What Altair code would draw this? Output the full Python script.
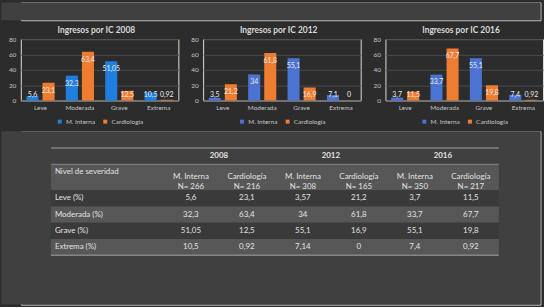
import altair as alt
import pandas as pd

# ---------------- data ----------------
categories = ["Leve", "Moderada", "Grave", "Extrema"]
series = ["M. Interna", "Cardiología"]
years = ["2008", "2012", "2016"]

chart_mi_2008 = [5.6, 32.3, 51.05, 10.5]
chart_card_2008 = [23.1, 63.4, 12.5, 0.92]
chart_mi_2012 = [3.5, 34, 55.1, 7.1]
chart_card_2012 = [21.2, 61.8, 16.9, 0]
chart_mi_2016 = [3.7, 33.7, 55.1, 7.4]
chart_card_2016 = [11.5, 67.7, 19.8, 0.92]

y_ticks = [0, 20, 40, 60, 80]

table_first_header = "Nivel de severidad"
table_row_labels = ["Leve (%)", "Moderada (%)", "Grave (%)", "Extrema (%)"]
table_n_mi = [266, 308, 350]
table_n_card = [216, 165, 217]
table_mi_2008 = [5.6, 32.3, 51.05, 10.5]
table_card_2008 = [23.1, 63.4, 12.5, 0.92]
table_mi_2012 = [3.57, 34, 55.1, 7.14]
table_card_2012 = [21.2, 61.8, 16.9, 0]
table_mi_2016 = [3.7, 33.7, 55.1, 7.4]
table_card_2016 = [11.5, 67.7, 19.8, 0.92]

# ---------------- style ----------------
FONT = "Lato"
BG_DARK = "#2c2c2c"
BG_GRAY = "#404040"
ROW_LIGHT = "#575757"
ROW_DARK = "#3a3a3a"
RULE = "#858585"
GRID = "#4a4a4a"
TXT = "#c4c4c4"
LBL = "#ececec"
TTXT = "#e2e2e2"
ORANGE = "#ee7d31"
BLUES = ["#1f7fe0", "#4a73d2", "#4a73d2"]

TOTAL_W = 544
LEFT = 19.6          # left margin before the first plot area
INNER_W = TOTAL_W - LEFT


def fmt(v):
    return str(v).replace(".", ",")


def panel(year, mi, card, blue):
    df = pd.DataFrame({
        "cat": categories * 2,
        "serie": [series[0]] * 4 + [series[1]] * 4,
        "value": list(mi) + list(card),
    })
    yscale = alt.Scale(domain=[0, 80], nice=False)
    yaxis = alt.Axis(values=y_ticks, title=None, labelPadding=5, ticks=False, domain=False,
                     grid=True, gridColor=GRID, labelColor=TXT, labelFontSize=6.5,
                     labelFont=FONT)
    x = alt.X("cat:N", sort=categories,
              scale=alt.Scale(paddingInner=0, paddingOuter=0),
              axis=alt.Axis(title=None, labelAngle=0, ticks=False, domainColor="#7a7a7a",
                            labelColor=TXT, labelFontSize=6.5, labelPadding=4,
                            labelFont=FONT))
    xo = alt.XOffset("serie:N", sort=series,
                     scale=alt.Scale(paddingInner=0.25, paddingOuter=0.35))
    bars = alt.Chart(df).mark_bar().encode(
        x=x, xOffset=xo,
        y=alt.Y("value:Q", scale=yscale, axis=yaxis),
        color=alt.Color("serie:N", sort=series,
                        scale=alt.Scale(domain=series, range=[blue, ORANGE]),
                        legend=alt.Legend(title=None, orient="none", direction="horizontal",
                                          legendX=36, legendY=80, symbolType="square",
                                          symbolSize=16, labelFontSize=6.5, labelColor=TXT,
                                          labelFont=FONT, columnPadding=6, labelOffset=3,
                                          symbolStrokeWidth=0)),
    )
    labels = alt.Chart(df).transform_calculate(
        ly="max(datum.value - 10.3, 7.7)",
        lbl="replace(toString(datum.value), '.', ',')",
    ).mark_text(font=FONT, fontSize=7, color=LBL, baseline="middle").encode(
        x=x, xOffset=xo,
        y=alt.Y("ly:Q", scale=yscale, axis=yaxis),
        text="lbl:N",
    )
    return alt.layer(bars, labels).properties(
        width=159, height=62,
        title=alt.TitleParams(f"Ingresos por IC {year}", font=FONT, fontSize=8.5,
                              fontWeight="bold", color="#d9d9d9", anchor="middle",
                              frame="bounds", dx=3, offset=2),
    )


p1 = panel(years[0], chart_mi_2008, chart_card_2008, BLUES[0])
p2 = panel(years[1], chart_mi_2012, chart_card_2012, BLUES[1])
p3 = panel(years[2], chart_mi_2016, chart_card_2016, BLUES[2])
top_row = alt.hconcat(p1, p2, p3, spacing=10).resolve_scale(
    color="independent").resolve_legend(color="independent")


def gray_backdrop(h):
    # full-width gray backdrop reaching into the left margin
    return alt.Chart(pd.DataFrame({"v": [0]})).mark_rect(color=BG_GRAY).encode(
        x=alt.value(-LEFT), x2=alt.value(INNER_W), y=alt.value(0), y2=alt.value(h))


# top band (gray)
band = gray_backdrop(18).properties(width=INNER_W, height=18)

# ---------------- table ----------------
TABLE_H = 175
UX, UY = 56.5, 16.4
xs = alt.Scale(domain=[-(50 - LEFT) / UX, 8 + 42 / UX], nice=False, zero=False)
ys = alt.Scale(domain=[-17 / UY, (TABLE_H - 17) / UY], nice=False, zero=False, reverse=True)
HEAD_H = 1.6
DATA0 = 1 + HEAD_H

bg_rows = [{"x0": 0, "x1": 8, "y0": 1, "y1": DATA0, "shade": "light"}]
for i, _ in enumerate(table_row_labels):
    bg_rows.append({"x0": 0, "x1": 8, "y0": DATA0 + i, "y1": DATA0 + i + 1,
                    "shade": "dark" if i % 2 == 0 else "light"})
bg = alt.Chart(pd.DataFrame(bg_rows)).mark_rect().encode(
    x=alt.X("x0:Q", scale=xs, axis=None), x2="x1:Q",
    y=alt.Y("y0:Q", scale=ys, axis=None), y2="y1:Q",
    fill=alt.condition("datum.shade == 'light'", alt.value(ROW_LIGHT), alt.value(ROW_DARK)),
)

rules_df = pd.DataFrame({"x0": [0, 0, 0], "x1": [8, 8, 8],
                         "y": [0, 1, DATA0 + len(table_row_labels)],
                         "w": [1.5, 1.0, 1.5]})
rules = alt.Chart(rules_df).mark_rule(color=RULE).encode(
    x=alt.X("x0:Q", scale=xs, axis=None), x2="x1:Q",
    y=alt.Y("y:Q", scale=ys, axis=None),
    strokeWidth=alt.StrokeWidth("w:Q", scale=None, legend=None),
)

year_df = pd.DataFrame({"x": [3, 5, 7], "y": [0.5] * 3, "t": years})
year_txt = alt.Chart(year_df).mark_text(font=FONT, fontSize=8, fontWeight="bold",
                                        color=TTXT, baseline="middle").encode(
    x=alt.X("x:Q", scale=xs, axis=None), y=alt.Y("y:Q", scale=ys, axis=None), text="t:N")

head_rows = []
for k in range(3):
    head_rows.append({"x": 2.5 + 2 * k, "t": f"{series[0]}\nN= {table_n_mi[k]}"})
    head_rows.append({"x": 3.5 + 2 * k, "t": f"{series[1]}\nN= {table_n_card[k]}"})
head_df = pd.DataFrame(head_rows)
head_df["y"] = 1 + HEAD_H / 2
head_txt = alt.Chart(head_df).mark_text(font=FONT, fontSize=8, color=TTXT, baseline="middle",
                                        lineBreak="\n", lineHeight=10).encode(
    x=alt.X("x:Q", scale=xs, axis=None), y=alt.Y("y:Q", scale=ys, axis=None), text="t:N")

left_df = pd.DataFrame({
    "x": [0] * (1 + len(table_row_labels)),
    "y": [1.5] + [DATA0 + 0.5 + i for i in range(len(table_row_labels))],
    "t": [table_first_header] + table_row_labels,
})
left_txt = alt.Chart(left_df).mark_text(font=FONT, fontSize=8, color=TTXT, baseline="middle",
                                        align="left", dx=4).encode(
    x=alt.X("x:Q", scale=xs, axis=None), y=alt.Y("y:Q", scale=ys, axis=None), text="t:N")

cols = [table_mi_2008, table_card_2008, table_mi_2012, table_card_2012,
        table_mi_2016, table_card_2016]
val_rows = []
for j, col in enumerate(cols):
    for i, v in enumerate(col):
        val_rows.append({"x": 2.5 + j, "y": DATA0 + 0.5 + i, "t": fmt(v)})
val_txt = alt.Chart(pd.DataFrame(val_rows)).mark_text(font=FONT, fontSize=8, color=TTXT,
                                                      baseline="middle").encode(
    x=alt.X("x:Q", scale=xs, axis=None), y=alt.Y("y:Q", scale=ys, axis=None), text="t:N")

table = alt.layer(gray_backdrop(TABLE_H), bg, rules, year_txt, head_txt, left_txt,
                  val_txt).properties(width=INNER_W, height=TABLE_H)

lower = alt.vconcat(top_row, table, spacing=4).resolve_scale(color="independent")
chart = alt.vconcat(band, lower, spacing=4).resolve_scale(
    color="independent").properties(background=BG_DARK, padding=0).configure_view(
    strokeWidth=0).configure(font=FONT)

chart.save("out.html", embed_options={"renderer": "svg", "actions": False})
